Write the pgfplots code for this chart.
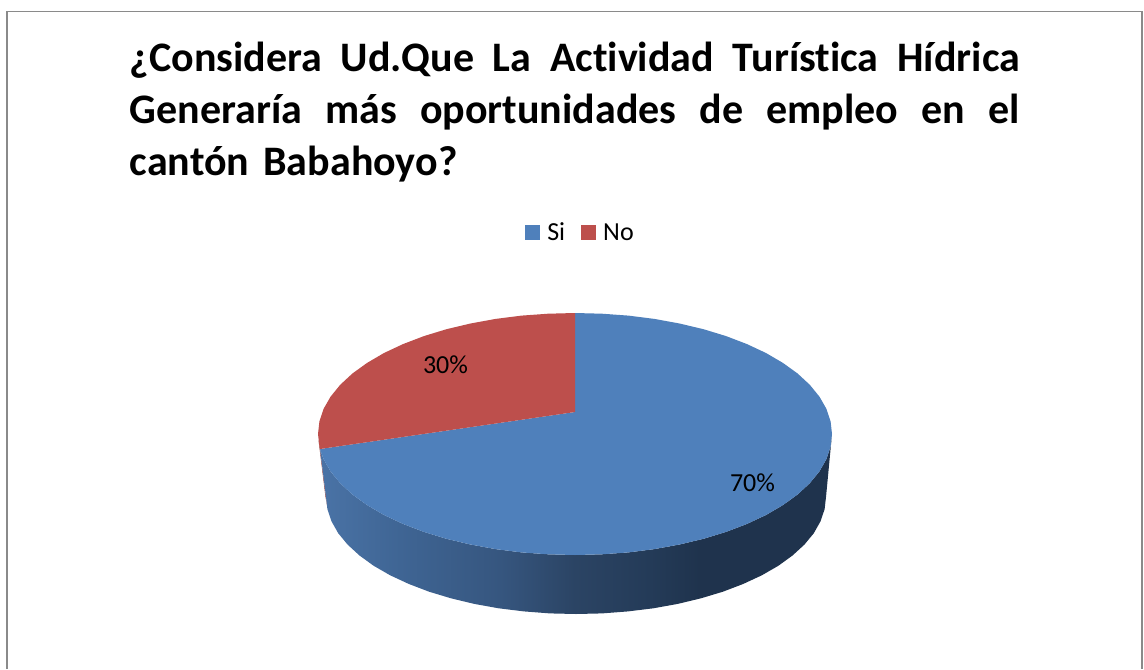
\documentclass[border=0pt]{standalone}
\usepackage{fontspec}
\setmainfont[Ligatures=NoCommon]{Carlito}
\usepackage{pgfplots}
\pgfplotsset{compat=1.18}

\definecolor{pieblue}{HTML}{4F80BB}
\definecolor{piered}{HTML}{BD4F4C}
\definecolor{sidered}{HTML}{8C3B39}
\definecolor{framegray}{HTML}{8A8A8A}
\definecolor{pieside0}{HTML}{4A73A6}
\definecolor{pieside1}{HTML}{3F6594}
\definecolor{pieside2}{HTML}{36567F}
\definecolor{pieside3}{HTML}{2B4464}
\definecolor{pieside4}{HTML}{243B58}
\definecolor{pieside5}{HTML}{1F334D}
\pgfdeclarehorizontalshading{pieside}{100bp}{
  color(0bp)=(pieside0);
  color(25bp)=(pieside0);
  color(32.8bp)=(pieside1);
  color(42.6bp)=(pieside2);
  color(49.9bp)=(pieside3);
  color(57.2bp)=(pieside4);
  color(62.1bp)=(pieside5);
  color(100bp)=(pieside5)}

\begin{document}
\begin{tikzpicture}
\begin{axis}[
    name=chart,
    hide axis,
    scale only axis,
    width=572pt,
    height=334.5pt,
    xmin=0, xmax=1144,
    ymin=0, ymax=669,
    y dir=reverse,
    legend columns=-1,
    legend style={
        at={(axis cs:579.5,233)}, anchor=center,
        draw=none, fill=none, inner sep=0pt,
        font=\fontsize{13}{15}\selectfont,
        /tikz/every odd column/.append style={column sep=3.5pt},
        /tikz/every even column/.append style={column sep=8pt},
        nodes={inner sep=0pt, anchor=base west}
    },
    legend image code/.code={
        \path[#1] (0pt,0.25pt) rectangle (7.5pt,7.75pt);
    }
]
% frame, open at the bottom
\addplot[framegray, line width=0.6pt, forget plot] coordinates {
    (6.5,11.5) (1142,11.5)
};
\addplot[framegray, line width=1pt, forget plot] coordinates {
    (6.5,669) (6.5,11)
};
\addplot[framegray, line width=1pt, forget plot] coordinates {
    (1142,11) (1142,669)
};
% small red part of the wall at the left
\addplot[draw=none, fill=sidered, forget plot] coordinates {
    (318.5,440) (320,449) (327,505) (325.5,497) (318.5,440)
};
% wall of the pie: upper edge left to right, lower edge right to left
\addplot[draw=none, shading=pieside, shading angle=0, forget plot] coordinates {
    (320,449) (323.6,459.2) (330.6,471.4) (340.2,483.2) (352.4,494.5)
    (367.1,505.1) (384.0,515.0) (403.0,523.9) (423.9,531.9) (446.5,538.8)
    (470.5,544.5) (495.6,549.1) (521.6,552.4) (548.1,554.3) (575,555)
    (601.9,554.3) (628.4,552.4) (654.4,549.1) (679.5,544.5) (703.5,538.8)
    (726.1,531.9) (747.0,523.9) (766.0,515.0) (782.9,505.1) (797.6,494.5)
    (809.8,483.2) (819.4,471.4) (826.4,459.2) (830.6,446.6) (832,434)
    (826,497) (824.6,509.2) (820.5,521.3) (813.8,533.2) (804.4,544.6)
    (792.5,555.5) (778.3,565.8) (761.8,575.3) (743.3,583.9) (722.9,591.7)
    (701,598.3) (677.7,603.9) (653.3,608.3) (628,611.4) (602.1,613.4) (576,614)
    (549.9,613.4) (524,611.4) (498.7,608.3) (474.3,603.9) (451,598.3)
    (429.1,591.7) (408.7,583.9) (390.2,575.3) (373.7,565.8) (359.5,555.5)
    (347.6,544.6) (338.2,533.2) (331.5,521.3) (327.4,509.2) (326,497) (320,449)
};
% Si, 70%
\addplot[draw=none, fill=pieblue] coordinates {
    (575,412) (575,313) (601.9,313.7) (628.4,315.6) (654.4,318.9) (679.5,323.5)
    (703.5,329.2) (726.1,336.1) (747.0,344.1) (766.0,353.0) (782.9,362.9)
    (797.6,373.5) (809.8,384.8) (819.4,396.6) (826.4,408.8) (830.6,421.4)
    (832,434) (830.6,446.6) (826.4,459.2) (819.4,471.4) (809.8,483.2)
    (797.6,494.5) (782.9,505.1) (766.0,515.0) (747.0,523.9) (726.1,531.9)
    (703.5,538.8) (679.5,544.5) (654.4,549.1) (628.4,552.4) (601.9,554.3)
    (575,555) (548.1,554.3) (521.6,552.4) (495.6,549.1) (470.5,544.5)
    (446.5,538.8) (423.9,531.9) (403.0,523.9) (384.0,515.0) (367.1,505.1)
    (352.4,494.5) (340.2,483.2) (330.6,471.4) (323.6,459.2) (320,449) (575,412)
};
\addlegendentry{Si}
% No, 30%
\addplot[draw=none, fill=piered] coordinates {
    (575,412) (320,449) (319.4,446.6) (318,434) (319.4,421.4) (323.6,408.8)
    (330.6,396.6) (340.2,384.8) (352.4,373.5) (367.1,362.9) (384.0,353.0)
    (403.0,344.1) (423.9,336.1) (446.5,329.2) (470.5,323.5) (495.6,318.9)
    (521.6,315.6) (548.1,313.7) (575,313) (575,412)
};
\addlegendentry{No}
\node[font=\fontsize{13}{15}\selectfont] at (axis cs:445.5,365) {30\%};
\node[font=\fontsize{13}{15}\selectfont] at (axis cs:752.5,483) {70\%};
\node[anchor=north west, inner sep=0pt, text width=445pt, align=left,
      font=\fontsize{21}{26}\selectfont\bfseries] at (axis cs:129.5,42) {%
    \leavevmode\hbox to 445pt{¿Considera\hfill Ud.Que\hfill La\hfill Actividad\hfill Turística\hfill Hídrica}\\
    \leavevmode\hbox to 445pt{Generaría\hfill más\hfill oportunidades\hfill de\hfill empleo\hfill en\hfill el}\\
    cantón Babahoyo?};
\end{axis}
\path[use as bounding box] (chart.south west) rectangle (chart.north east);
\end{tikzpicture}
\end{document}
